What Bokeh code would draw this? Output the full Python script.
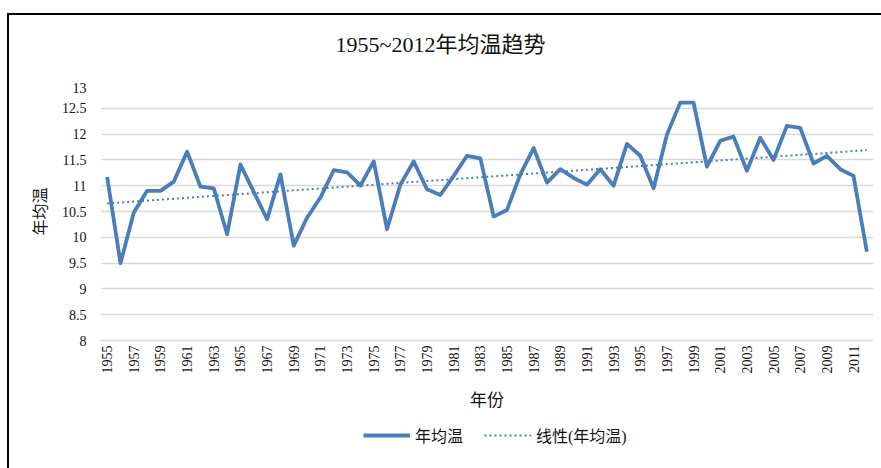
import numpy as np
from bokeh.plotting import figure
from bokeh.layouts import column
from bokeh.models import FixedTicker, Legend, LegendItem, Range1d, Label
from bokeh.embed import file_html
from bokeh.resources import INLINE

title_text = "1955~2012年均温趋势"
x_title = "年份"
y_title = "年均温"
series_name = "年均温"
trend_name = "线性(年均温)"

years = list(range(1955, 2013))
temps = [11.17, 9.50, 10.48, 10.90, 10.90, 11.08, 11.66, 10.98, 10.95, 10.06,
         11.41, 10.88, 10.35, 11.22, 9.84, 10.38, 10.77, 11.30, 11.26, 11.00,
         11.47, 10.16, 11.02, 11.47, 10.93, 10.82, 11.19, 11.58, 11.53, 10.40,
         10.53, 11.22, 11.73, 11.06, 11.32, 11.15, 11.02, 11.32, 11.00, 11.81,
         11.58, 10.95, 11.99, 12.61, 12.61, 11.37, 11.87, 11.95, 11.29, 11.93,
         11.50, 12.16, 12.12, 11.43, 11.58, 11.32, 11.19, 9.72]
x_ticks = list(range(1955, 2012, 2))
y_ticks = [8, 8.5, 9, 9.5, 10, 10.5, 11, 11.5, 12, 12.5, 13]
y_tick_labels = ["8", "8.5", "9", "9.5", "10", "10.5", "11", "11.5", "12", "12.5", "13"]

# linear trendline (least squares, as in the original spreadsheet)
slope, intercept = np.polyfit(years, temps, 1)
trend = [slope * y + intercept for y in years]

BLUE = "#4a7ebb"
SERIF = "'Liberation Serif', 'Noto Sans CJK SC', serif"
INK = "#111111"

# ---- title strip (frame is aligned with the chart frame by the column) ----
p_top = figure(width=872, height=67, output_backend="svg", toolbar_location=None,
               x_range=Range1d(0, 1), y_range=Range1d(0, 1),
               x_axis_type=None, y_axis_type=None, min_border=0,
               background_fill_color="white", border_fill_color="white")
p_top.outline_line_color = None
p_top.xgrid.visible = False
p_top.ygrid.visible = False
p_top.add_layout(Label(x=235, y=38, x_units="screen", y_units="screen", text=title_text,
                       text_font=SERIF, text_font_size="22px", text_color=INK,
                       text_baseline="middle", text_align="left"))

# ---- main chart ----
p = figure(frame_width=773, frame_height=258, output_backend="svg", toolbar_location=None,
           x_range=Range1d(1954.5, 2012.5), y_range=Range1d(8, 13),
           min_border_left=91, min_border_right=8, min_border_top=0, min_border_bottom=80,
           background_fill_color="white", border_fill_color="white")
p.outline_line_color = None

r1 = p.line(years, temps, line_color=BLUE, line_width=3.8, line_join="round")
r2 = p.line(years, trend, line_color=BLUE, line_width=2, line_dash="2 3")

p.xgrid.grid_line_color = None
p.ygrid.grid_line_color = "#d9d9d9"
p.ygrid.grid_line_width = 1.5
p.ygrid.ticker = FixedTicker(ticks=y_ticks)

p.yaxis.ticker = FixedTicker(ticks=y_ticks)
p.yaxis.major_label_overrides = {v: s for v, s in zip(y_ticks, y_tick_labels)}
p.yaxis.axis_line_color = None
p.yaxis.major_tick_line_color = None
p.yaxis.minor_tick_line_color = None
p.yaxis.major_tick_out = 0
p.yaxis.major_tick_in = 0
p.yaxis.major_label_text_font = SERIF
p.yaxis.major_label_text_font_size = "14px"
p.yaxis.major_label_text_color = INK
p.yaxis.major_label_standoff = 14
p.yaxis.axis_label = y_title
p.yaxis.axis_label_text_font = "Noto Sans CJK SC"
p.yaxis.axis_label_text_font_size = "16px"
p.yaxis.axis_label_text_font_style = "normal"
p.yaxis.axis_label_text_color = INK
p.yaxis.axis_label_standoff = 8

p.xaxis.ticker = FixedTicker(ticks=x_ticks)
p.xaxis.major_label_overrides = {y: str(y) for y in x_ticks}
p.xaxis.major_label_orientation = np.pi / 2
p.xaxis.axis_line_color = "#d9d9d9"
p.xaxis.axis_line_width = 1.5
p.xaxis.major_tick_line_color = None
p.xaxis.minor_tick_line_color = None
p.xaxis.major_tick_out = 0
p.xaxis.major_tick_in = 0
p.xaxis.major_label_text_font = SERIF
p.xaxis.major_label_text_font_size = "14px"
p.xaxis.major_label_text_color = INK
p.xaxis.major_label_standoff = 5
p.xaxis.axis_label = x_title
p.xaxis.axis_label_text_font = "Noto Sans CJK SC"
p.xaxis.axis_label_text_font_size = "17px"
p.xaxis.axis_label_text_font_style = "normal"
p.xaxis.axis_label_text_color = INK
p.xaxis.axis_label_standoff = 9

# ---- legend strip (series drawn out of view so only the legend keys show) ----
p_leg = figure(width=872, height=48, output_backend="svg", toolbar_location=None,
               x_range=Range1d(0, 1), y_range=Range1d(0, 1),
               x_axis_type=None, y_axis_type=None, min_border=0,
               background_fill_color="white", border_fill_color="white")
p_leg.outline_line_color = None
p_leg.xgrid.visible = False
p_leg.ygrid.visible = False
k1 = p_leg.line(years, temps, line_color=BLUE, line_width=3.8)
k2 = p_leg.line(years, trend, line_color=BLUE, line_width=2, line_dash="2 3")
legend = Legend(items=[LegendItem(label=series_name, renderers=[k1]),
                       LegendItem(label=trend_name, renderers=[k2])],
                orientation="horizontal", location=(263, 21),
                label_text_font=SERIF, label_text_font_size="16px",
                label_text_color=INK, glyph_width=47, spacing=21,
                label_standoff=5, border_line_color=None, background_fill_alpha=0,
                margin=0, padding=0)
p_leg.add_layout(legend, "center")

layout = column(p_top, p, p_leg, spacing=0,
                styles={"border-top": "2px solid black", "border-left": "2px solid black",
                        "margin-top": "13px", "margin-left": "7px"})

open("out.html", "w").write(file_html(layout, INLINE))
